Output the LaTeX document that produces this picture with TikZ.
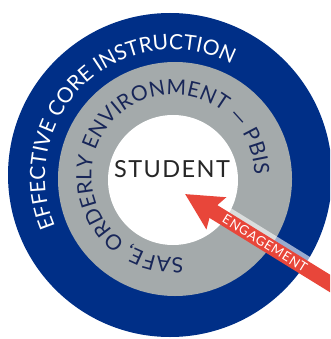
\documentclass[tikz,border=0pt]{standalone}
\usepackage{fontspec}
\setmainfont{Lato}
\newfontfamily\widefont{Lato}[LetterSpace=6]
\usetikzlibrary{%
        arrows.meta,
        decorations.text
    }
\definecolor{navy}{RGB}{0, 47, 135}
\definecolor{slate}{RGB}{164, 170, 171}
\definecolor{ink}{RGB}{24, 38, 88}
\definecolor{signal}{RGB}{232, 70, 58}
\tikzset{%
    ringtext/.style={%
        decorate,
        decoration={text along path, text align={fit to path}, text={#1}}
    },
    engarrow/.style={%
        draw=signal, line width=15pt,
        -{Stealth[length=36pt, width=36pt, inset=5pt]}
    },
    glint/.style={draw=white, draw opacity=0.6, line width=5pt},
    engtext/.style={text=white, font=\widefont\fontsize{13}{13}\selectfont}
}
\begin{document}
\begin{tikzpicture}[x=1pt, y=1pt]

    \useasboundingbox (0, 0) rectangle (330, -339);
    \clip (0, 0) rectangle (330, -339);

    % Rings
    \coordinate (outerc) at (170, -175);
    \coordinate (midc) at (175, -179);
    \coordinate (innerc) at (173, -180);
    \fill[navy] (outerc) circle[radius=162];
    \fill[slate] (midc) circle[radius=117];
    \fill[white] (innerc) circle[radius=65];

    % Curved labels
    \coordinate (outertext) at (172.5, -177);
    \coordinate (midtext) at (173, -176);
    \path[ringtext={|\color{white}\fontsize{21}{21}\selectfont|EFFECTIVE CORE INSTRUCTION}]
        (outertext) ++(203:127.5) arc[start angle=203, end angle=65, radius=127.5];
    \path[ringtext={|\color{ink}\fontsize{21}{21}\selectfont|SAFE, ORDERLY ENVIRONMENT — PBIS}]
        (midtext) ++(277:81.5) arc[start angle=277, end angle=1, radius=81.5];

    \node[font=\widefont\fontsize{23.5}{23.5}\selectfont, text=black!85] (student)
        at (172, -169) {STUDENT};

    % Engagement arrow
    \coordinate (tip) at (185, -194);
    \coordinate (tail) at (345, -292.7);
    \draw[glint, shorten <=33pt, shorten >=38pt]
        ([shift={(5, 8.1)}] tail) -- ([shift={(5, 8.1)}] tip);
    \draw[engarrow] (tail) -- node[pos=0.5, sloped, engtext] (engage) {ENGAGEMENT} (tip);

\end{tikzpicture}
\end{document}
